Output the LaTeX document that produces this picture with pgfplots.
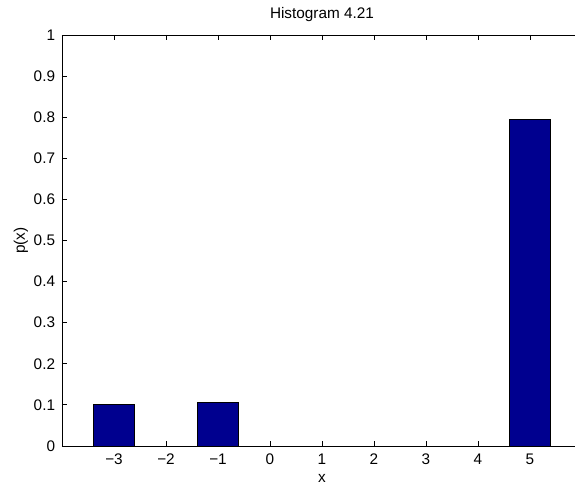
\documentclass[border=0pt]{standalone}
\usepackage{pgfplots}
\pgfplotsset{compat=1.18}
\usepackage{fontspec}
\setmainfont{Liberation Sans}
\definecolor{barblue}{RGB}{0,0,143}

\begin{document}
\begin{tikzpicture}
\begin{axis}[
    ybar,
    bar width=0.8,
    bar shift=0pt,
    scale only axis,
    width=390pt,
    height=308.25pt,
    xmin=-4, xmax=6,
    ymin=0, ymax=1,
    xtick={-3,-2,-1,0,1,2,3,4,5},
    xticklabels={−3,−2,−1,0,1,2,3,4,5},
    ytick={0,0.1,0.2,0.3,0.4,0.5,0.6,0.7,0.8,0.9,1},
    yticklabels={0,0.1,0.2,0.3,0.4,0.5,0.6,0.7,0.8,0.9,1},
    tick align=inside,
    major tick length=3.75pt,
    xtick pos=both,
    ytick pos=both,
    axis line style={line width=0.6pt},
    every tick/.style={black, line width=0.6pt},
    tick label style={font=\fontsize{11.5}{13}\selectfont},
    xticklabel style={anchor=center, yshift=-9.75pt},
    yticklabel style={anchor=east, inner sep=0pt, xshift=-5pt},
    xlabel={x},
    ylabel={p(x)},
    title={Histogram 4.21},
    every axis title shift=0pt,
    label style={font=\fontsize{11.5}{13}\selectfont},
    title style={font=\fontsize{11.5}{13}\selectfont, at={(axis description cs:0.5,1)}, anchor=center, yshift=15pt},
    xlabel style={at={(axis description cs:0.5,0)}, anchor=center, yshift=-24pt},
    ylabel style={at={(axis description cs:0,0.5)}, anchor=center, yshift=30.75pt},
]
\addplot[fill=barblue, draw=black, line width=0.6pt] coordinates {
    (-3, 0.101)
    (-1, 0.105)
    (5, 0.795)
};
\end{axis}
\pgfresetboundingbox
\useasboundingbox (-46.5pt,-32.25pt) rectangle (384.75pt,334.5pt);
\end{tikzpicture}
\end{document}
